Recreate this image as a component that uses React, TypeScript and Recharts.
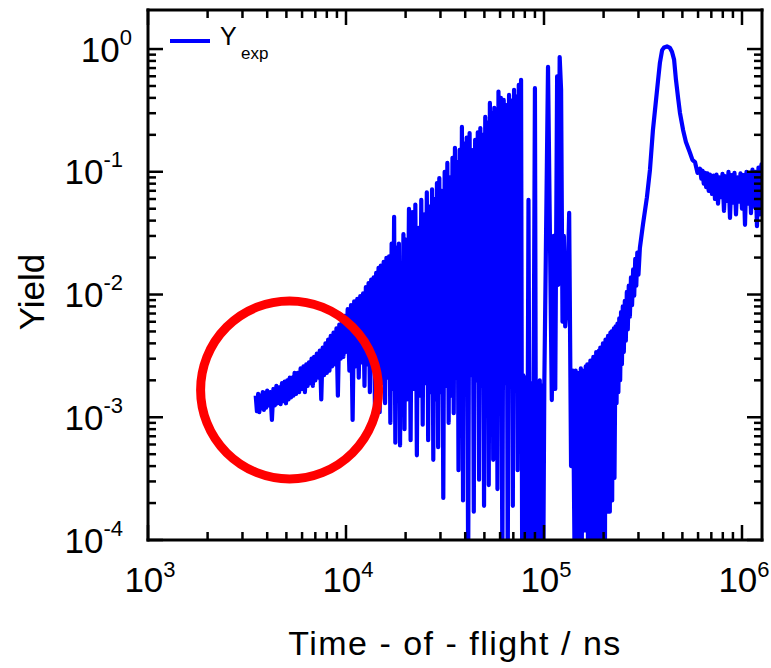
import React from 'react';
import { LineChart, Line, XAxis, YAxis, ReferenceDot, Legend } from 'recharts';

// [time of flight (ns), yield], segment by segment
const rise: [number, number][] = [
  [3500, 0.0015], [3550, 0.00112], [3600, 0.00155], [3650, 0.0011], [3700, 0.0015],
  [3750, 0.00118], [3800, 0.0016], [3850, 0.00115], [3900, 0.00158], [3950, 0.0012],
  [4000, 0.00165], [4075, 0.00125], [4150, 0.0016], [4225, 0.00095], [4300, 0.0017],
  [4375, 0.00125], [4450, 0.0018], [4525, 0.0013], [4600, 0.00175], [4675, 0.00128],
  [4750, 0.0019], [4825, 0.00135], [4900, 0.00195], [4975, 0.0013], [5050, 0.002],
  [5125, 0.0014], [5200, 0.0021], [5275, 0.00145], [5350, 0.0021], [5425, 0.0015],
  [5500, 0.0023], [5600, 0.00155], [5700, 0.0023], [5800, 0.0016], [5900, 0.0025],
  [6000, 0.0017], [6100, 0.0026], [6200, 0.0016], [6300, 0.0027], [6400, 0.0018],
  [6500, 0.0028], [6600, 0.0019], [6700, 0.003], [6800, 0.0018], [6900, 0.0031],
  [7000, 0.002], [7125, 0.0033], [7250, 0.0021], [7375, 0.0035], [7500, 0.0014],
  [7625, 0.0037], [7750, 0.0022], [7875, 0.004], [8000, 0.0023], [8125, 0.0043],
  [8250, 0.0024], [8375, 0.0046], [8500, 0.0026], [8650, 0.0049], [8800, 0.0027],
  [8950, 0.0053], [9100, 0.0015], [9250, 0.0057], [9400, 0.003], [9550, 0.0062],
  [9700, 0.0031], [9850, 0.0067], [10000, 0.0034],
];

const burst: [number, number][] = [
  [10200, 0.0076], [10400, 0.0024], [10600, 0.0082], [10800, 0.00095], [11000, 0.0088],
  [11200, 0.0026], [11400, 0.0092], [11600, 0.0021], [11800, 0.0097], [12000, 0.0028],
  [12200, 0.0102], [12400, 0.0018], [12600, 0.0115], [12800, 0.0027], [13000, 0.0124],
  [13200, 0.0016], [13400, 0.0132], [13600, 0.0026], [13800, 0.0138], [14000, 0.0012],
  [14200, 0.015], [14400, 0.0022], [14600, 0.0165], [14800, 0.0011], [15000, 0.0172],
  [15250, 0.0019], [15500, 0.0185], [15750, 0.0013], [16000, 0.0199], [16250, 0.0021],
  [16500, 0.0205], [16750, 0.0009], [17000, 0.026], [17250, 0.0017], [17500, 0.043],
  [17750, 0.00062], [18000, 0.024], [18250, 0.0018], [18500, 0.026], [18750, 0.00059],
  [19000, 0.0165], [19250, 0.002], [19500, 0.031], [19750, 0.0008], [20000, 0.028],
  [20400, 0.0014], [20800, 0.05], [21200, 0.00065], [21600, 0.047], [22000, 0.0017],
  [22400, 0.054], [22800, 0.00049], [23200, 0.035], [23600, 0.0015], [24000, 0.059],
  [24400, 0.00087], [24800, 0.045], [25200, 0.0019], [25600, 0.068], [26000, 0.00065],
  [26400, 0.052], [26800, 0.0016], [27200, 0.072], [27600, 0.00045], [28000, 0.06],
  [28400, 0.0014], [28800, 0.081], [29200, 0.00057], [29600, 0.089], [30000, 0.0016],
  [30500, 0.07], [31000, 0.00022], [31500, 0.1], [32000, 0.0018], [32500, 0.118],
  [33000, 0.0009], [33500, 0.09], [34000, 0.0015], [34500, 0.13], [35000, 0.00108],
  [35500, 0.157], [36000, 0.0021], [36500, 0.12], [37000, 0.00037], [37500, 0.151],
  [38000, 0.0017], [38500, 0.232], [39000, 0.00021], [39500, 0.17], [40000, 0.0019],
  [40700, 0.19], [41400, 0.00005], [42100, 0.207], [42800, 0.0022], [43500, 0.15],
  [44200, 0.00017], [44900, 0.182], [45600, 0.002], [46300, 0.21], [47000, 0.00031],
  [47700, 0.227], [48400, 0.0018], [49100, 0.2], [49800, 0.00019], [50500, 0.28],
  [51200, 0.0021], [51900, 0.25], [52600, 0.00028], [53300, 0.364], [54000, 0.0017],
  [54700, 0.3], [55400, 0.00045], [56100, 0.332], [56800, 0.0023], [57500, 0.28],
  [58200, 0.00026], [58900, 0.45], [59600, 0.002],
  [60600, 0.4], [61600, 0.00005], [62600, 0.385], [63600, 0.0019], [64600, 0.35],
  [65600, 0.00005], [66600, 0.423], [67600, 0.0021], [68600, 0.38], [69600, 0.00019],
  [70600, 0.465], [71600, 0.0018], [72600, 0.41], [73600, 0.00037], [74600, 0.511],
  [75600, 0.002], [76600, 0.561], [77600, 0.00005], [78600, 0.0022], [79600, 0.00005],
  [80900, 0.0021], [82200, 0.00005], [83500, 0.059], [84800, 0.00005], [86100, 0.0019],
  [87400, 0.00005], [88700, 0.0021], [90000, 0.48], [91300, 0.00005], [92600, 0.0019],
  [93900, 0.00005], [95200, 0.002], [96500, 0.00005], [97800, 0.0018], [99100, 0.00005],
  [100400, 0.0019], [104800, 0.716], [109500, 0.00138], [112000, 0.03], [114000, 0.0017],
  [116500, 0.6], [118000, 0.012], [120000, 0.86], [122000, 0.465], [124000, 0.006],
  [126000, 0.03], [128000, 0.0055], [131000, 0.009], [134000, 0.0463], [137000, 0.0004],
  [140000, 0.0024],
];

const band: [number, number][] = [
  [143000, 0.00005], [144500, 0.0024], [146000, 0.0004], [147500, 0.0023], [149000, 0.00005],
  [150500, 0.0022], [152000, 0.0009], [153500, 0.0025], [155000, 0.00005], [156500, 0.0024],
  [158000, 0.0003], [159500, 0.0022], [161000, 0.00012], [162500, 0.0026], [164000, 0.0006],
  [165500, 0.0027], [167000, 0.00005], [168500, 0.0026], [170000, 0.00015], [171500, 0.0029],
  [173000, 0.00005], [174500, 0.0028], [176000, 0.0005], [177500, 0.0031], [179000, 0.00005],
  [180500, 0.003], [182000, 0.0002], [183500, 0.0034], [185000, 0.00005], [186500, 0.0033],
  [188000, 0.0007], [189500, 0.0035], [191000, 0.00005], [192500, 0.0037], [194000, 0.00011],
  [195500, 0.0036], [197000, 0.00005], [198500, 0.004], [200000, 0.0004], [201500, 0.0039],
  [203000, 0.00005], [204500, 0.0043], [206000, 0.00025], [207500, 0.0042], [209000, 0.00017],
  [210500, 0.0046], [212000, 0.0005], [213500, 0.0045], [215000, 0.00017], [216500, 0.0049],
  [218000, 0.0008], [219500, 0.005], [221000, 0.00021], [222500, 0.0049], [224000, 0.0011],
  [225500, 0.0053], [227000, 0.00032], [230000, 0.0055], [232500, 0.0013], [235000, 0.0058],
  [237500, 0.0016], [240000, 0.0064], [242500, 0.002], [245000, 0.0072], [247500, 0.0027],
  [250000, 0.008], [253000, 0.0034], [256000, 0.0089], [259000, 0.0042], [262000, 0.0105],
  [265000, 0.0052], [268000, 0.0118], [271500, 0.0066], [275000, 0.0138], [278500, 0.0082],
  [282000, 0.016], [285500, 0.0098], [289000, 0.0195], [292500, 0.0118], [296000, 0.022],
  [300000, 0.0145],
];

const peak: [number, number][] = [
  [305000, 0.024], [316000, 0.037], [331000, 0.062], [343000, 0.104], [355000, 0.219],
  [368000, 0.385], [377000, 0.561], [385000, 0.773], [395000, 0.98], [404000, 1.03],
  [418000, 1.05], [433000, 1.02], [443000, 0.95], [454000, 0.82], [464000, 0.561],
  [475000, 0.407], [486000, 0.302], [504000, 0.219], [521000, 0.175], [546000, 0.143],
  [562000, 0.125], [579000, 0.12], [596000, 0.098], [614000, 0.106], [623000, 0.088],
  [632000, 0.102], [641000, 0.08], [650000, 0.098], [659000, 0.075], [669000, 0.097],
  [679000, 0.07], [689000, 0.095],
];

const tail: [number, number][] = [
  [705600, 0.066], [718000, 0.093], [730600, 0.06], [743500, 0.095], [756700, 0.055],
  [770000, 0.09], [783200, 0.062], [797000, 0.096], [811100, 0.048], [825300, 0.092],
  [839900, 0.058], [854700, 0.1], [869700, 0.042], [885000, 0.094], [900500, 0.056],
  [916300, 0.098], [932500, 0.045], [948900, 0.09], [965600, 0.057], [982600, 0.097],
  [1000000, 0.05], [1017600, 0.094], [1035600, 0.037], [1053800, 0.1], [1072300, 0.055],
  [1091100, 0.096], [1110300, 0.046], [1129800, 0.104], [1149700, 0.052], [1169900, 0.1],
  [1190400, 0.036], [1211300, 0.108], [1232700, 0.045], [1254300, 0.115], [1262000, 0.06],
];

const xTicks = [
  1000, 2000, 3000, 4000, 5000, 6000, 7000, 8000, 9000,
  10000, 20000, 30000, 40000, 50000, 60000, 70000, 80000, 90000,
  100000, 200000, 300000, 400000, 500000, 600000, 700000, 800000, 900000,
  1000000,
];

const yTicks = [
  0.0001, 0.0002, 0.0003, 0.0004, 0.0005, 0.0006, 0.0007, 0.0008, 0.0009,
  0.001, 0.002, 0.003, 0.004, 0.005, 0.006, 0.007, 0.008, 0.009,
  0.01, 0.02, 0.03, 0.04, 0.05, 0.06, 0.07, 0.08, 0.09,
  0.1, 0.2, 0.3, 0.4, 0.5, 0.6, 0.7, 0.8, 0.9,
  1,
];

const data = [...rise, ...burst, ...band, ...peak, ...tail].map(([t, y]) => ({ t, y }));

const FONT = '"Liberation Sans", Arial, Helvetica, sans-serif';

const isMajor = (v: number) => Math.abs(Math.log10(v) - Math.round(Math.log10(v))) < 1e-6;

function BottomTick({ x, y, payload }: any) {
  const major = isMajor(payload.value);
  const exp = Math.round(Math.log10(payload.value));
  return (
    <g>
      <line x1={x} y1={y} x2={x} y2={y - (major ? 15 : 8)} stroke="#000" strokeWidth={2.5} />
      {major && (
        <text x={x + 2} y={y + 52} textAnchor="middle" fontFamily={FONT} fontSize={35} fill="#000">
          10<tspan dy={-15} fontSize={22}>{exp}</tspan>
        </text>
      )}
    </g>
  );
}

function TopTick({ x, y, payload }: any) {
  const major = isMajor(payload.value);
  return <line x1={x} y1={y} x2={x} y2={y + (major ? 15 : 8)} stroke="#000" strokeWidth={2.5} />;
}

function LeftTick({ x, y, payload }: any) {
  const major = isMajor(payload.value);
  const exp = Math.round(Math.log10(payload.value));
  return (
    <g>
      <line x1={x} y1={y} x2={x + (major ? 15 : 8)} y2={y} stroke="#000" strokeWidth={2.5} />
      {major && (
        <text x={x - (exp === 0 ? 16 : 25)} y={y + 12.5} textAnchor="end" fontFamily={FONT} fontSize={35} fill="#000">
          10<tspan dy={-17} fontSize={22}>{exp}</tspan>
        </text>
      )}
    </g>
  );
}

function RightTick({ x, y, payload }: any) {
  const major = isMajor(payload.value);
  return <line x1={x} y1={y} x2={x - (major ? 15 : 8)} y2={y} stroke="#000" strokeWidth={2.5} />;
}

function LegendBox() {
  return (
    <svg width={130} height={50}>
      <line x1={5} y1={21} x2={45} y2={21} stroke="#0000ff" strokeWidth={4} />
      <text x={55} y={25} fontFamily={FONT} fontSize={25} fill="#000">Y</text>
      <text x={76} y={38.5} fontFamily={FONT} fontSize={17} fill="#000">exp</text>
    </svg>
  );
}

const frame = { stroke: '#000', strokeWidth: 3, strokeLinecap: 'square' as const };

export default function App() {
  return (
    <div style={{ position: 'absolute', left: 0, top: 0, width: 771, height: 668, background: '#fff' }}>
      <LineChart width={771} height={668} data={data} margin={{ top: 6, right: 5, bottom: 0, left: 48 }}>
        <XAxis
          xAxisId="bottom"
          dataKey="t"
          type="number"
          scale="log"
          domain={[1000, 1262000]}
          allowDataOverflow
          ticks={xTicks}
          interval={0}
          tickSize={0}
          tickMargin={0}
          tickLine={false}
          axisLine={frame}
          tick={(p: any) => <BottomTick {...p} />}
          height={128}
          label={{
            value: 'Time - of - flight / ns',
            position: 'insideBottom',
            offset: 13,
            fontSize: 34,
            letterSpacing: 1.5,
            fontFamily: FONT,
            fill: '#000',
          }}
        />
        <XAxis
          xAxisId="top"
          orientation="top"
          dataKey="t"
          type="number"
          scale="log"
          domain={[1000, 1262000]}
          allowDataOverflow
          ticks={xTicks}
          interval={0}
          tickSize={0}
          tickMargin={0}
          tickLine={false}
          axisLine={frame}
          tick={(p: any) => <TopTick {...p} />}
          height={4}
        />
        <YAxis
          yAxisId="left"
          type="number"
          scale="log"
          domain={[0.0001, 2.08]}
          allowDataOverflow
          ticks={yTicks}
          interval={0}
          tickSize={0}
          tickMargin={0}
          tickLine={false}
          axisLine={frame}
          tick={(p: any) => <LeftTick {...p} />}
          width={100}
          label={{
            content: ({ viewBox }: any) => {
              const cx = viewBox.x - 4;
              const cy = 292;
              return (
                <text
                  x={cx}
                  y={cy}
                  transform={`rotate(-90, ${cx}, ${cy})`}
                  textAnchor="middle"
                  fontFamily={FONT}
                  fontSize={35}
                  fill="#000"
                >
                  Yield
                </text>
              );
            },
          }}
        />
        <YAxis
          yAxisId="right"
          orientation="right"
          type="number"
          scale="log"
          domain={[0.0001, 2.08]}
          allowDataOverflow
          ticks={yTicks}
          interval={0}
          tickSize={0}
          tickMargin={0}
          tickLine={false}
          axisLine={frame}
          tick={(p: any) => <RightTick {...p} />}
          width={4}
        />
        <Legend
          layout="vertical"
          align="center"
          verticalAlign="middle"
          wrapperStyle={{ position: 'absolute', left: 165, top: 20, width: 130, height: 50 }}
          content={() => <LegendBox />}
        />
        <Line
          xAxisId="bottom"
          yAxisId="left"
          dataKey="y"
          stroke="#0000ff"
          strokeWidth={4.2}
          strokeLinejoin="round"
          dot={false}
          isAnimationActive={false}
          legendType="line"
        />
        <ReferenceDot
          xAxisId="bottom"
          yAxisId="left"
          x={5190}
          y={0.00167}
          r={89}
          fill="none"
          stroke="#ff0000"
          strokeWidth={9}
        />
      </LineChart>
    </div>
  );
}
